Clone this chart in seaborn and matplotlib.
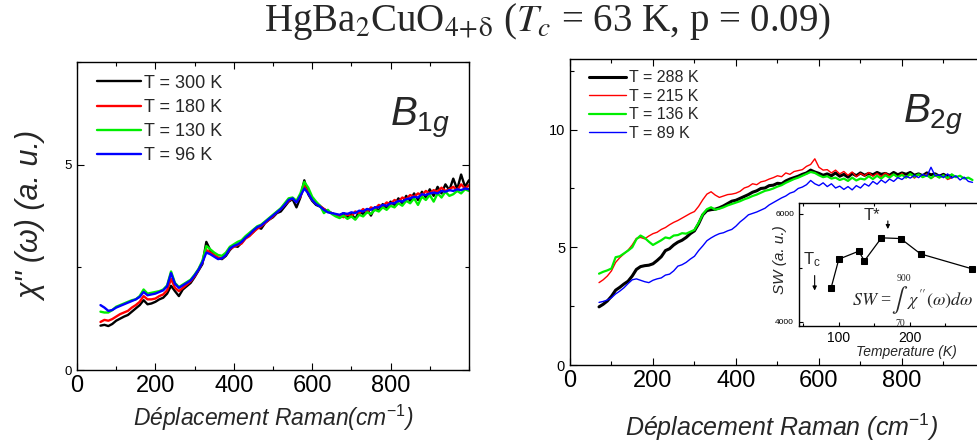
import numpy as np
import pandas as pd
import matplotlib
matplotlib.use('Agg')
import matplotlib.pyplot as plt
import seaborn as sns
from matplotlib.ticker import MultipleLocator

sns.set_style('ticks')
plt.rcParams['font.family'] = ['Liberation Sans', 'DejaVu Sans']
plt.rcParams['mathtext.fontset'] = 'custom'
plt.rcParams['mathtext.rm'] = 'Liberation Sans'
plt.rcParams['mathtext.it'] = 'Liberation Sans:italic'
plt.rcParams['mathtext.bf'] = 'Liberation Sans:bold'

# ---- B1g spectra (10 cm-1 steps) ----
raman_b1g = np.arange(60, 1001, 10)
b1g_300K = [1.08, 1.10, 1.07, 1.12, 1.20, 1.25, 1.30, 1.34, 1.42, 1.50,
            1.58, 1.70, 1.60, 1.62, 1.66, 1.72, 1.76, 1.86, 2.05, 1.92,
            1.80, 1.96, 2.04, 2.12, 2.26, 2.42, 2.58, 3.12, 2.92, 2.78,
            2.72, 2.70, 2.78, 2.92, 3.02, 3.00, 3.10, 3.22, 3.28, 3.36,
            3.48, 3.44, 3.58, 3.66, 3.72, 3.82, 3.86, 3.98, 4.10, 4.16,
            3.96, 4.20, 4.62, 4.28, 4.12, 4.02, 3.98, 3.92, 3.86, 3.82,
            3.78, 3.76, 3.82, 3.72, 3.80, 3.68, 3.86, 3.80, 3.92, 3.76,
            3.96, 3.88, 4.04, 3.94, 4.10, 4.02, 4.18, 4.06, 4.24, 4.12,
            4.30, 4.14, 4.34, 4.20, 4.40, 4.24, 4.46, 4.30, 4.52, 4.38,
            4.66, 4.40, 4.76, 4.46, 4.62]
b1g_180K = [1.17, 1.22, 1.20, 1.24, 1.30, 1.36, 1.40, 1.44, 1.52, 1.58,
            1.66, 1.80, 1.72, 1.72, 1.74, 1.80, 1.84, 1.94, 2.22, 2.00,
            1.92, 2.00, 2.08, 2.16, 2.28, 2.44, 2.62, 2.92, 2.86, 2.80,
            2.74, 2.72, 2.82, 2.94, 3.00, 3.04, 3.08, 3.20, 3.26, 3.36,
            3.44, 3.50, 3.58, 3.66, 3.74, 3.84, 3.92, 4.02, 4.12, 4.18,
            4.10, 4.22, 4.48, 4.32, 4.14, 4.06, 4.00, 3.92, 3.86, 3.82,
            3.78, 3.76, 3.72, 3.80, 3.74, 3.86, 3.82, 3.92, 3.84, 3.96,
            3.92, 4.02, 3.98, 4.08, 4.04, 4.14, 4.10, 4.20, 4.16, 4.26,
            4.22, 4.30, 4.26, 4.36, 4.30, 4.38, 4.34, 4.44, 4.36, 4.40,
            4.46, 4.38, 4.52, 4.42, 4.50]
b1g_130K = [1.42, 1.40, 1.40, 1.46, 1.54, 1.58, 1.62, 1.66, 1.70, 1.72,
            1.80, 1.96, 1.86, 1.88, 1.90, 1.92, 1.96, 2.06, 2.40, 2.12,
            2.02, 2.08, 2.14, 2.20, 2.32, 2.46, 2.66, 3.02, 2.94, 2.86,
            2.80, 2.78, 2.86, 3.00, 3.06, 3.12, 3.16, 3.26, 3.34, 3.42,
            3.50, 3.54, 3.62, 3.70, 3.78, 3.86, 3.94, 4.06, 4.18, 4.20,
            4.12, 4.30, 4.58, 4.44, 4.22, 4.10, 4.00, 3.82, 3.90, 3.80,
            3.74, 3.70, 3.76, 3.68, 3.74, 3.66, 3.78, 3.74, 3.84, 3.80,
            3.90, 3.86, 3.96, 3.90, 4.00, 3.96, 4.06, 4.00, 4.12, 4.06,
            4.18, 4.02, 4.22, 4.14, 4.26, 4.10, 4.30, 4.20, 4.34, 4.24,
            4.28, 4.36, 4.30, 4.40, 4.36]
b1g_96K = [1.58, 1.52, 1.44, 1.46, 1.52, 1.56, 1.60, 1.64, 1.68, 1.72,
           1.78, 1.90, 1.82, 1.84, 1.86, 1.90, 1.94, 2.04, 2.36, 2.10,
           2.00, 2.06, 2.12, 2.18, 2.30, 2.44, 2.62, 2.86, 2.82, 2.76,
           2.70, 2.72, 2.80, 2.96, 3.02, 3.06, 3.12, 3.22, 3.30, 3.40,
           3.48, 3.52, 3.60, 3.68, 3.76, 3.84, 3.92, 4.02, 4.14, 4.18,
           4.08, 4.24, 4.42, 4.30, 4.14, 4.04, 3.98, 3.90, 3.84, 3.82,
           3.80, 3.78, 3.82, 3.80, 3.84, 3.82, 3.88, 3.86, 3.92, 3.90,
           3.96, 3.96, 4.02, 4.00, 4.06, 4.06, 4.12, 4.10, 4.16, 4.18,
           4.22, 4.20, 4.28, 4.26, 4.30, 4.32, 4.30, 4.36, 4.34, 4.38,
           4.36, 4.40, 4.38, 4.42, 4.40]

# ---- B2g spectra ----
raman_b2g_short = np.arange(70, 921, 10)
raman_b2g_long = np.arange(70, 971, 10)
b2g_288K = [2.47, 2.58, 2.72, 2.92, 3.18, 3.30, 3.44, 3.56, 3.78, 4.06,
            4.18, 4.22, 4.24, 4.30, 4.44, 4.60, 4.86, 4.94, 5.10, 5.22,
            5.30, 5.42, 5.58, 5.70, 6.00, 6.38, 6.56, 6.60, 6.62, 6.68,
            6.76, 6.86, 6.96, 7.00, 7.08, 7.16, 7.24, 7.34, 7.40, 7.50,
            7.52, 7.62, 7.64, 7.72, 7.70, 7.82, 7.90, 7.96, 8.02, 8.10,
            8.16, 8.28, 8.20, 8.14, 8.06, 8.12, 8.04, 8.16, 8.02, 8.10,
            7.98, 8.14, 8.04, 8.16, 8.06, 8.14, 8.08, 8.18, 8.10, 8.14,
            8.06, 8.18, 8.08, 8.16, 8.10, 8.18, 8.06, 8.12, 8.04, 8.16,
            8.08, 8.12, 8.02, 8.10, 8.00, 8.06]
b2g_215K = [3.50, 3.62, 3.78, 4.00, 4.36, 4.56, 4.72, 4.88, 5.10, 5.38,
            5.42, 5.36, 5.48, 5.58, 5.64, 5.76, 5.84, 5.96, 6.06, 6.14,
            6.24, 6.34, 6.44, 6.52, 6.74, 7.02, 7.26, 7.36, 7.22, 7.12,
            7.18, 7.24, 7.26, 7.30, 7.38, 7.52, 7.58, 7.70, 7.66, 7.78,
            7.82, 7.90, 7.96, 8.04, 8.00, 8.16, 8.10, 8.22, 8.26, 8.30,
            8.44, 8.52, 8.76, 8.40, 8.28, 8.30, 8.16, 8.28, 8.12, 8.22,
            8.06, 8.20, 8.00, 8.14, 8.04, 8.18, 8.02, 8.14, 8.00, 8.16,
            8.04, 8.10, 7.98, 8.14, 7.96, 8.10, 7.94, 8.08, 7.98, 8.12,
            7.92, 8.04, 7.96, 8.06, 7.88, 7.96]
b2g_136K = [3.88, 3.96, 4.02, 4.10, 4.58, 4.62, 4.74, 4.86, 5.00, 5.34,
            5.50, 5.40, 5.24, 5.10, 5.20, 5.30, 5.42, 5.38, 5.50, 5.52,
            5.60, 5.58, 5.66, 5.74, 6.04, 6.40, 6.62, 6.70, 6.60, 6.64,
            6.70, 6.78, 6.84, 6.90, 6.96, 7.04, 7.10, 7.18, 7.24, 7.32,
            7.40, 7.44, 7.50, 7.58, 7.64, 7.74, 7.82, 7.90, 7.96, 8.04,
            8.12, 8.20, 8.16, 8.06, 7.98, 8.02, 7.92, 7.96, 7.86, 7.92,
            7.82, 7.96, 7.84, 7.92, 7.88, 8.02, 7.90, 8.04, 7.92, 8.06,
            7.96, 8.10, 7.98, 8.08, 7.96, 8.12, 8.00, 8.10, 7.98, 8.06,
            7.94, 8.08, 7.96, 8.06, 7.94, 8.10, 7.98, 8.04, 7.92, 7.96,
            7.86]
b2g_89K = [2.66, 2.70, 2.76, 2.86, 3.02, 3.14, 3.28, 3.46, 3.62, 3.66,
           3.60, 3.54, 3.50, 3.60, 3.66, 3.70, 3.82, 3.86, 4.00, 4.20,
           4.26, 4.36, 4.50, 4.62, 4.86, 5.06, 5.28, 5.40, 5.50, 5.58,
           5.62, 5.70, 5.76, 5.90, 6.08, 6.22, 6.38, 6.44, 6.50, 6.58,
           6.66, 6.80, 6.90, 7.00, 7.10, 7.18, 7.30, 7.36, 7.50, 7.56,
           7.66, 7.84, 7.70, 7.62, 7.74, 7.58, 7.70, 7.52, 7.60, 7.46,
           7.58, 7.44, 7.62, 7.52, 7.70, 7.60, 7.80, 7.68, 7.86, 7.74,
           7.90, 7.80, 7.96, 7.88, 8.02, 7.94, 8.06, 7.96, 8.10, 8.02,
           8.40, 8.04, 8.08, 7.96, 8.12, 7.94, 8.04, 7.86, 7.98, 7.80,
           7.76]

# ---- inset: spectral weight vs temperature ----
inset_temp = [89, 100, 128, 136, 160, 187, 215, 288]
inset_sw = [4624, 5161, 5309, 5130, 5556, 5543, 5259, 4981]

fig = plt.figure(figsize=(9.78, 4.46), dpi=100)
ax1 = fig.add_axes([0.0787, 0.1704, 0.4008, 0.6906])
ax2 = fig.add_axes([0.5828, 0.1816, 0.4243, 0.6861])
axin = fig.add_axes([0.817, 0.269, 0.186, 0.2758])


def style_axis(ax, labsize_x, labsize_y, major=5, minor=3):
    ax.tick_params(which='both', direction='in', top=True, right=True,
                   colors='black', width=0.8)
    ax.tick_params(which='major', length=major)
    ax.tick_params(which='minor', length=minor)
    ax.tick_params(axis='x', labelsize=labsize_x)
    ax.tick_params(axis='y', labelsize=labsize_y)
    for s in ax.spines.values():
        s.set_color('black')
        s.set_linewidth(1.0)


# left panel
left_series = [(b1g_300K, 'black', 'T = 300 K'), (b1g_180K, '#ff0000', 'T = 180 K'),
               (b1g_130K, '#00ee00', 'T = 130 K'), (b1g_96K, '#0000ff', 'T = 96 K')]
for vals, col, lab in left_series:
    sns.lineplot(x=raman_b1g, y=vals, color=col, lw=1.7, label=lab, ax=ax1,
                 estimator=None, sort=False)
ax1.set_xlim(0, 1000)
ax1.set_ylim(0, 7.5)
ax1.set_xticks([0, 200, 400, 600, 800])
ax1.xaxis.set_minor_locator(MultipleLocator(100))
ax1.yaxis.set_major_locator(MultipleLocator(5))
ax1.yaxis.set_minor_locator(MultipleLocator(2.5))
style_axis(ax1, 17, 9.5)
ax1.legend(loc='upper left', bbox_to_anchor=(0.02, 1.0), frameon=False, fontsize=13,
           handlelength=2.4, handletextpad=0.2, labelspacing=0.4, borderaxespad=0.3)
ax1.set_xlabel('Déplacement Raman(cm$^{-1}$)', fontsize=16.5, fontstyle='italic', va='center')
ax1.xaxis.set_label_coords(0.5, -0.156)
ax1.set_ylabel("χ'' (ω) (a. u.)", fontsize=22, fontstyle='italic', va='center')
ax1.yaxis.set_label_coords(-0.115, 0.5)
ax1.text(0.875, 0.82, r'$\mathit{B}_{\mathit{1g}}$', transform=ax1.transAxes,
         fontsize=29, ha='center', va='center')

# right panel
right_series = [(raman_b2g_short, b2g_288K, 'black', 2.2, 'T = 288 K'),
                (raman_b2g_short, b2g_215K, '#ff0000', 1.0, 'T = 215 K'),
                (raman_b2g_long, b2g_136K, '#00ee00', 1.6, 'T = 136 K'),
                (raman_b2g_long, b2g_89K, '#0000ff', 1.0, 'T = 89 K')]
for xs, vals, col, lw, lab in right_series:
    sns.lineplot(x=xs, y=vals, color=col, lw=lw, label=lab, ax=ax2,
                 estimator=None, sort=False)
ax2.set_xlim(0, 1000)
ax2.set_ylim(0, 13)
ax2.set_xticks([0, 200, 400, 600, 800])
ax2.xaxis.set_minor_locator(MultipleLocator(100))
ax2.yaxis.set_major_locator(MultipleLocator(5))
ax2.yaxis.set_minor_locator(MultipleLocator(2.5))
style_axis(ax2, 17, 10.5)
ax2.legend(loc='upper left', bbox_to_anchor=(0.02, 1.0), frameon=False, fontsize=11.5,
           handlelength=2.3, handletextpad=0.2, labelspacing=0.22, borderaxespad=0.3)
ax2.set_xlabel('Déplacement Raman (cm$^{-1}$)', fontsize=18, fontstyle='italic', va='center')
ax2.xaxis.set_label_coords(0.51, -0.203)
ax2.text(0.875, 0.82, r'$\mathit{B}_{\mathit{2g}}$', transform=ax2.transAxes,
         fontsize=29, ha='center', va='center')

# inset
axin.set_facecolor('white')
sns.lineplot(x=inset_temp, y=inset_sw, color='black', lw=0.9, marker='s',
             markersize=4.5, markeredgecolor='black', ax=axin, estimator=None)
axin.set_xlim(44, 300)
axin.set_ylim(3925, 6200)
axin.set_xticks([100, 200])
axin.xaxis.set_minor_locator(MultipleLocator(50))
axin.set_yticks([4000, 6000])
axin.yaxis.set_minor_locator(MultipleLocator(1000))
style_axis(axin, 10, 6, major=3, minor=2)
axin.set_xlabel('Temperature (K)', fontsize=10, fontstyle='italic', va='center')
axin.xaxis.set_label_coords(0.588, -0.21)
axin.set_ylabel('SW (a. u.)', fontsize=11, fontstyle='italic', va='center')
axin.yaxis.set_label_coords(-0.104, 0.54)
axin.annotate('', xy=(169, 5667), xytext=(169, 5920),
              arrowprops=dict(arrowstyle='-|>', color='black', lw=0.8, mutation_scale=6))
axin.text(146, 5960, 'T*', fontsize=12, ha='center', va='center')
axin.annotate('', xy=(66, 4530), xytext=(66, 4910),
              arrowprops=dict(arrowstyle='-|>', color='black', lw=0.8, mutation_scale=6))
axin.text(62, 5150, 'T$_\\mathrm{c}$', fontsize=12, ha='center', va='center')
# SW = integral formula, limits drawn above and below the sign
axin.text(175, 4400, r'$SW$ =', fontsize=13, ha='right', va='center',
          family='Liberation Serif', math_fontfamily='stix')
axin.text(186, 4400, r'$\int$', fontsize=17, ha='center', va='center',
          math_fontfamily='stix')
axin.text(196, 4400, r"$\chi''(\omega)d\omega$", fontsize=13, ha='left', va='center',
          math_fontfamily='stix')
axin.text(191, 4800, '900', fontsize=7, ha='center', va='center', family='Liberation Serif')
axin.text(187, 3970, '70', fontsize=7, ha='center', va='center', family='Liberation Serif')

fig.text(0.56, 0.951, r'HgBa$_2$CuO$_{4\!+\!\mathrm{\delta}}$ ($T_c$ = 63 K, p = 0.09)',
         fontsize=28, family='Liberation Serif', math_fontfamily='stix',
         ha='center', va='center')

fig.savefig('out.png', dpi=100)
